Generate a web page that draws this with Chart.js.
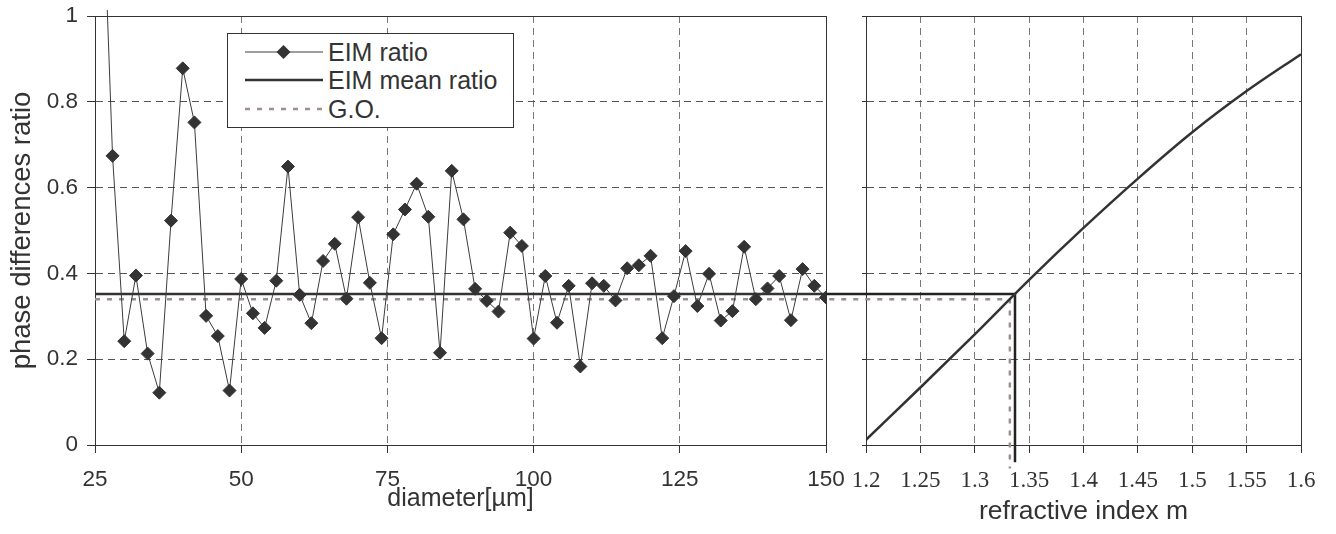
<!DOCTYPE html>
<html>
<head>
<meta charset="utf-8">
<script src="https://cdn.jsdelivr.net/npm/chart.js@4/dist/chart.umd.min.js"></script>
<style>
  html, body { margin: 0; padding: 0; background: #fff; }
  #wrap { position: relative; width: 1336px; height: 534px; overflow: hidden; background: #fff; }
  canvas { position: absolute; top: 0; }
  #leftChart { left: 0; }
  #rightChart { left: 826px; }
  #legend {
    position: absolute; left: 227px; top: 33px; width: 285px; height: 93px;
    border: 1px solid #333; background: #fff;
    font-family: 'Liberation Sans', Arial, sans-serif; font-size: 25px; color: #333;
  }
  .item { position: absolute; left: 0; width: 285px; height: 28px; }
  .item svg { position: absolute; left: 17px; top: 0; }
  .item span { position: absolute; left: 100px; top: 0; line-height: 28px; white-space: nowrap; }
</style>
</head>
<body>
<div id="wrap">
  <canvas id="leftChart" width="860" height="534"></canvas>
  <canvas id="rightChart" width="510" height="534"></canvas>
  <div id="legend"></div>
</div>
<script>
// Particle diameter [µm] and measured EIM phase-difference ratio
const diameters = [26, 28, 30, 32, 34, 36, 38, 40, 42, 44, 46, 48, 50, 52, 54, 56, 58, 60,
  62, 64, 66, 68, 70, 72, 74, 76, 78, 80, 82, 84, 86, 88, 90, 92, 94, 96, 98, 100,
  102, 104, 106, 108, 110, 112, 114, 116, 118, 120, 122, 124, 126, 128, 130, 132,
  134, 136, 138, 140, 142, 144, 146, 148, 150];
const eimRatio = [1.43, 0.674, 0.242, 0.395, 0.213, 0.122, 0.523, 0.878, 0.752, 0.301,
  0.254, 0.127, 0.387, 0.307, 0.273, 0.383, 0.649, 0.350, 0.284, 0.429, 0.469, 0.341,
  0.531, 0.378, 0.249, 0.491, 0.549, 0.609, 0.532, 0.215, 0.639, 0.526, 0.364, 0.336,
  0.311, 0.495, 0.464, 0.248, 0.394, 0.285, 0.371, 0.183, 0.377, 0.371, 0.337, 0.412,
  0.419, 0.441, 0.249, 0.347, 0.452, 0.324, 0.399, 0.290, 0.312, 0.462, 0.340, 0.365,
  0.394, 0.291, 0.410, 0.371, 0.344];

// Mean EIM ratio and geometrical-optics ratio
const meanRatio = 0.352;
const goRatio = 0.340;

// Phase-difference ratio as a function of refractive index m
const refIndex = [1.2, 1.25, 1.3, 1.35, 1.4, 1.45, 1.5, 1.55, 1.6];
const refRatio = [0.012, 0.134, 0.258, 0.385, 0.506, 0.621, 0.729, 0.825, 0.911];

// Tick values
const diameterTicks = [25, 50, 75, 100, 125, 150];
const ratioTicks = [0, 0.2, 0.4, 0.6, 0.8, 1];
const indexTicks = [1.2, 1.25, 1.3, 1.35, 1.4, 1.45, 1.5, 1.55, 1.6];

// Read the refractive index belonging to a given ratio off the curve
function indexForRatio(r) {
  for (let i = 1; i < refRatio.length; i++) {
    if (r <= refRatio[i]) {
      const t = (r - refRatio[i - 1]) / (refRatio[i] - refRatio[i - 1]);
      return refIndex[i - 1] + t * (refIndex[i] - refIndex[i - 1]);
    }
  }
  return refIndex[refIndex.length - 1];
}
const meanIndex = indexForRatio(meanRatio);
const goIndex = indexForRatio(goRatio);

const SANS = "'Liberation Sans', Arial, sans-serif";
const SERIF = "'Liberation Serif', 'Times New Roman', serif";
const INK = '#333';
const GO_COLOR = '#9d8f8b';

Chart.defaults.font.family = SANS;
Chart.defaults.color = INK;

// Top and right edges of the plot frame
const framePlugin = {
  id: 'frame',
  beforeDatasetsDraw(chart) {
    const { ctx, chartArea: a } = chart;
    ctx.save();
    ctx.strokeStyle = INK;
    ctx.lineWidth = 1;
    ctx.beginPath();
    ctx.moveTo(Math.round(a.left) + 0.5, Math.round(a.top) + 0.5);
    ctx.lineTo(Math.round(a.right) + 0.5, Math.round(a.top) + 0.5);
    ctx.lineTo(Math.round(a.right) + 0.5, Math.round(a.bottom) + 0.5);
    ctx.stroke();
    ctx.restore();
  }
};

const tickSet = (values) => (scale) => { scale.ticks = values.map(v => ({ value: v })); };
const plainNumber = (digits) => (v) => String(+Number(v).toFixed(digits));
// Fixed axis thickness, without extra label overhang padding
const fixedWidth = (w) => (s) => { s.width = w; s.paddingTop = 0; s.paddingBottom = 0; };
const fixedHeight = (h) => (s) => { s.height = h; s.paddingLeft = 0; s.paddingRight = 0; };

// Left panel: ratio against diameter
const leftChart = new Chart(document.getElementById('leftChart'), {
  type: 'line',
  data: {
    datasets: [
      {
        label: 'EIM ratio',
        data: diameters.map((d, i) => ({ x: d, y: eimRatio[i] })),
        borderColor: '#3c3c3c',
        borderWidth: 1,
        pointStyle: 'rectRot',
        pointRadius: 6.5,
        pointBackgroundColor: INK,
        pointBorderColor: INK,
        pointBorderWidth: 1,
        tension: 0,
        clip: { left: 0, top: 6, right: 0, bottom: 0 }
      },
      {
        label: 'EIM mean ratio',
        data: [{ x: 25, y: meanRatio }, { x: 150, y: meanRatio }],
        borderColor: INK,
        borderWidth: 2.5,
        pointRadius: 0,
        tension: 0
      },
      {
        label: 'G.O.',
        data: [{ x: 25, y: goRatio }, { x: 150, y: goRatio }],
        borderColor: GO_COLOR,
        borderWidth: 2.5,
        borderDash: [5, 7],
        pointRadius: 0,
        tension: 0
      }
    ]
  },
  options: {
    responsive: false,
    animation: false,
    events: [],
    layout: { padding: { left: 0, top: 16, right: 34, bottom: 0 } },
    plugins: { legend: { display: false }, tooltip: { enabled: false } },
    scales: {
      x: {
        type: 'linear', min: 25, max: 150,
        afterBuildTicks: tickSet(diameterTicks),
        afterFit: fixedHeight(89),
        ticks: { font: { size: 22.5 }, padding: 13, maxRotation: 0, autoSkip: false, color: INK,
                 callback: plainNumber(0) },
        grid: { color: '#777', lineWidth: 1, tickLength: 8, tickColor: INK, tickBorderDash: [] },
        border: { display: true, color: INK, width: 1, dash: [7, 5] },
        title: {
          display: true, text: 'diameter[µm]', color: INK,
          font: { size: 25, lineHeight: 1 }, padding: { top: 0, bottom: 22 }
        }
      },
      y: {
        type: 'linear', min: 0, max: 1,
        afterBuildTicks: tickSet(ratioTicks),
        afterFit: fixedWidth(95),
        ticks: { font: { size: 22.5 }, padding: 9, color: INK, callback: plainNumber(1) },
        grid: { color: '#555', lineWidth: 1, tickLength: 8, tickColor: INK, tickBorderDash: [] },
        border: { display: true, color: INK, width: 1, dash: [7, 5] },
        title: {
          display: true, text: 'phase differences ratio', color: INK,
          font: { size: 27.5, lineHeight: 1 }, padding: { top: 9, bottom: 0 }
        }
      }
    }
  },
  plugins: [framePlugin]
});

// Right panel: ratio against refractive index, with read-off lines
const rightChart = new Chart(document.getElementById('rightChart'), {
  type: 'line',
  data: {
    datasets: [
      {
        label: 'ratio(m)',
        data: refIndex.map((m, i) => ({ x: m, y: refRatio[i] })),
        borderColor: INK,
        borderWidth: 2.5,
        pointRadius: 0,
        cubicInterpolationMode: 'monotone'
      },
      {
        label: 'EIM mean ratio',
        data: [{ x: 1.1, y: meanRatio }, { x: meanIndex, y: meanRatio }, { x: meanIndex, y: -0.04 }],
        borderColor: '#222',
        borderWidth: 2.5,
        pointRadius: 0,
        tension: 0,
        clip: { left: 60, top: 0, right: 0, bottom: 30 }
      },
      {
        label: 'G.O.',
        data: [{ x: 1.1, y: goRatio }, { x: goIndex, y: goRatio }, { x: goIndex, y: -0.055 }],
        borderColor: GO_COLOR,
        borderWidth: 2.5,
        borderDash: [5, 7],
        pointRadius: 0,
        tension: 0,
        clip: { left: 60, top: 0, right: 0, bottom: 30 }
      }
    ]
  },
  options: {
    responsive: false,
    animation: false,
    events: [],
    layout: { padding: { left: 0, top: 16, right: 35, bottom: 0 } },
    plugins: { legend: { display: false }, tooltip: { enabled: false } },
    scales: {
      x: {
        type: 'linear', min: 1.2, max: 1.6,
        afterBuildTicks: tickSet(indexTicks),
        afterFit: fixedHeight(89),
        ticks: {
          font: { family: SERIF, size: 23 }, padding: 14, maxRotation: 0, autoSkip: false, color: INK,
          callback: plainNumber(2)
        },
        grid: { color: '#777', lineWidth: 1, tickLength: 8, tickColor: INK, tickBorderDash: [] },
        border: { display: true, color: INK, width: 1, dash: [7, 5] },
        title: {
          display: true, text: 'refractive index m', color: INK,
          font: { size: 26.5, lineHeight: 1 }, padding: { top: 0, bottom: 9.5 }
        }
      },
      y: {
        type: 'linear', min: 0, max: 1,
        afterBuildTicks: tickSet(ratioTicks),
        afterFit: fixedWidth(40),
        ticks: { display: false },
        grid: { color: '#555', lineWidth: 1, tickLength: 4, tickColor: INK, tickBorderDash: [] },
        border: { display: true, color: INK, width: 1, dash: [7, 5] }
      }
    }
  },
  plugins: [framePlugin]
});

// Legend box built from the left panel's series
(function buildLegend(chart) {
  const box = document.getElementById('legend');
  const svgNS = 'http://www.w3.org/2000/svg';
  chart.data.datasets.forEach((ds, i) => {
    const row = document.createElement('div');
    row.className = 'item';
    row.style.top = (4 + i * 28.3) + 'px';
    const svg = document.createElementNS(svgNS, 'svg');
    svg.setAttribute('width', '78');
    svg.setAttribute('height', '28');
    const line = document.createElementNS(svgNS, 'line');
    line.setAttribute('x1', '0'); line.setAttribute('x2', '78');
    line.setAttribute('y1', '14'); line.setAttribute('y2', '14');
    line.setAttribute('stroke', ds.borderColor);
    line.setAttribute('stroke-width', String(ds.borderWidth));
    if (ds.borderDash) line.setAttribute('stroke-dasharray', ds.borderDash.join(' '));
    svg.appendChild(line);
    if (ds.pointRadius > 0) {
      const r = ds.pointRadius + 0.5, cx = 38.5, cy = 14;
      const p = document.createElementNS(svgNS, 'polygon');
      p.setAttribute('points', `${cx - r},${cy} ${cx},${cy - r} ${cx + r},${cy} ${cx},${cy + r}`);
      p.setAttribute('fill', ds.pointBackgroundColor);
      svg.appendChild(p);
    }
    row.appendChild(svg);
    const span = document.createElement('span');
    span.textContent = ds.label;
    row.appendChild(span);
    box.appendChild(row);
  });
})(leftChart);
</script>
</body>
</html>
